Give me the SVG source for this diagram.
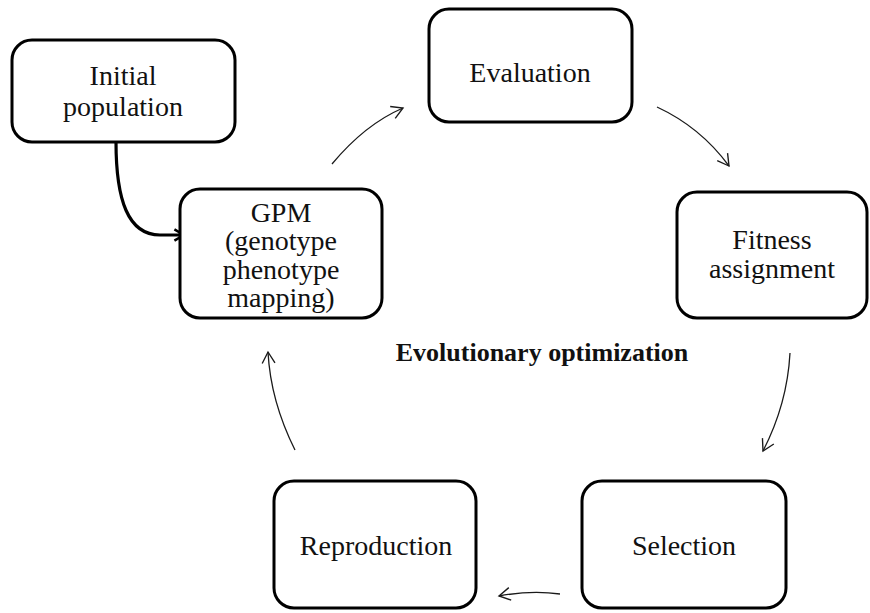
<svg xmlns="http://www.w3.org/2000/svg" width="870" height="613" viewBox="0 0 870 613">
  <style>
    .box { fill: #ffffff; stroke: #000000; stroke-width: 3; }
    .lbl { font-family: "Liberation Serif", "DejaVu Serif", serif; font-size: 28px; fill: #111111; text-anchor: middle; }
    .title { font-family: "Liberation Serif", "DejaVu Serif", serif; font-size: 26px; font-weight: bold; fill: #111111; text-anchor: middle; }
    .flow { fill: none; stroke: #1a1a1a; stroke-width: 1.3; marker-end: url(#open); }
    .feed { fill: none; stroke: #000000; stroke-width: 3.2; marker-end: url(#openBold); }
  </style>
  <defs>
    <marker id="open" viewBox="0 0 20 20" refX="18" refY="10" markerWidth="16" markerHeight="16" markerUnits="userSpaceOnUse" orient="auto">
      <path d="M4,2 L18,10 L4,18" fill="none" stroke="#1a1a1a" stroke-width="1.7"/>
    </marker>
    <marker id="openBold" viewBox="0 0 20 20" refX="17" refY="10" markerWidth="16" markerHeight="16" markerUnits="userSpaceOnUse" orient="auto">
      <path d="M5,3 L17,10 L5,17" fill="none" stroke="#000000" stroke-width="3.2"/>
    </marker>
  </defs>

  <rect width="870" height="613" fill="#ffffff"/>

  <g id="connectors">
    <path class="feed" d="M116,142 C116,200 128,235 160,235 L184,235"/>
    <path class="flow" d="M332,164 C352,140 375,120 403,108"/>
    <path class="flow" d="M657,107 C685,120 710,140 729,166"/>
    <path class="flow" d="M790,353 C788,390 779,420 763,451"/>
    <path class="flow" d="M560,594 C540,591 520,592 499,596"/>
    <path class="flow" d="M295,450 C280,420 270,390 268,352"/>
  </g>

  <g id="initial-population">
    <rect class="box" x="12" y="40" width="223" height="102" rx="20"/>
    <text class="lbl" x="123" y="85">Initial</text>
    <text class="lbl" x="123" y="116">population</text>
  </g>

  <g id="evaluation">
    <rect class="box" x="429" y="9" width="203" height="113" rx="20"/>
    <text class="lbl" x="530" y="82">Evaluation</text>
  </g>

  <g id="gpm">
    <rect class="box" x="180" y="189" width="202" height="129" rx="20"/>
    <text class="lbl" x="281" y="222">GPM</text>
    <text class="lbl" x="281" y="250">(genotype</text>
    <text class="lbl" x="281" y="279">phenotype</text>
    <text class="lbl" x="281" y="307">mapping)</text>
  </g>

  <g id="fitness-assignment">
    <rect class="box" x="677" y="192" width="190" height="126" rx="20"/>
    <text class="lbl" x="772" y="249">Fitness</text>
    <text class="lbl" x="772" y="278">assignment</text>
  </g>

  <g id="selection">
    <rect class="box" x="582" y="481" width="204" height="127" rx="20"/>
    <text class="lbl" x="684" y="555">Selection</text>
  </g>

  <g id="reproduction">
    <rect class="box" x="274" y="481" width="202" height="127" rx="20"/>
    <text class="lbl" x="376" y="555">Reproduction</text>
  </g>

  <g id="caption">
    <text class="title" x="542" y="361">Evolutionary optimization</text>
  </g>
</svg>
